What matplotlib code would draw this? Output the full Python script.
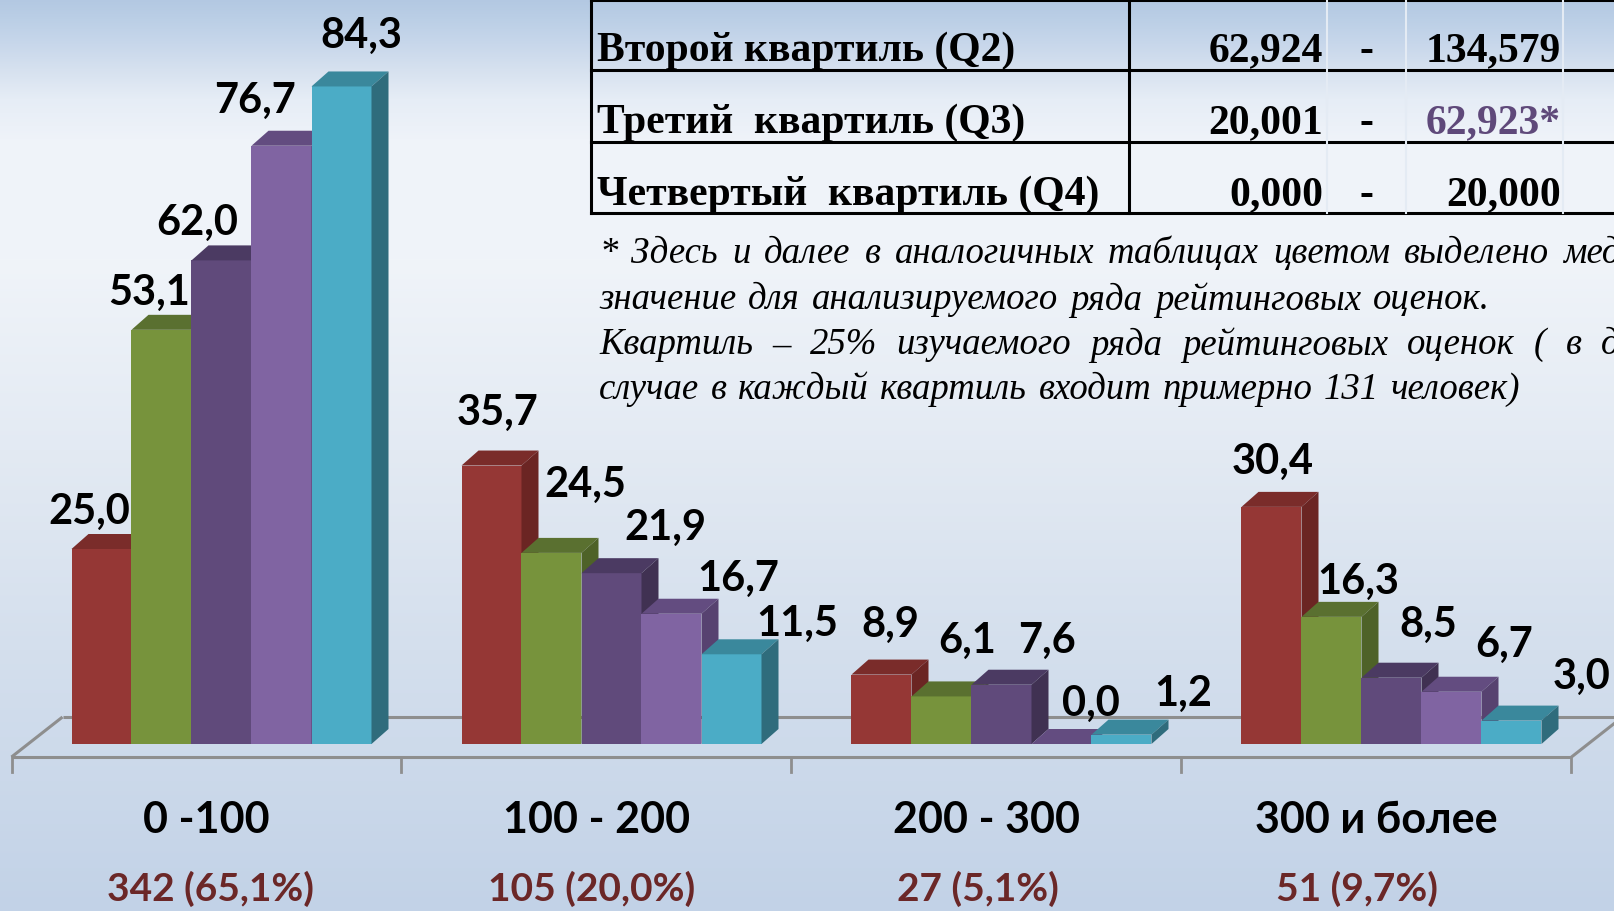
import numpy as np
import matplotlib.pyplot as plt
from matplotlib.patches import Polygon
from matplotlib.lines import Line2D
from matplotlib.transforms import IdentityTransform
from matplotlib.colors import to_rgb

# ---- data ----
categories = ['0 -100', '100 - 200', '200 - 300', '300 и более']
counts = ['342 (65,1%)', '105 (20,0%)', '27 (5,1%)', '51 (9,7%)']

s_red = [25.0, 35.7, 8.9, 30.4]
s_green = [53.1, 24.5, 6.1, 16.3]
s_dpurple = [62.0, 21.9, 7.6, 8.5]
s_lilac = [76.7, 16.7, 0.0, 6.7]
s_cyan = [84.3, 11.5, 1.2, 3.0]
series = [s_red, s_green, s_dpurple, s_lilac, s_cyan]

q_names = ['Второй квартиль (Q2)', 'Третий  квартиль (Q3)', 'Четвертый  квартиль (Q4)']
q_low = ['62,924', '20,001', '0,000']
q_high = ['134,579', '62,923*', '20,000']

note_lines = [
    '* Здесь и далее в аналогичных таблицах цветом выделено медианное',
    'значение для анализируемого ряда рейтинговых оценок.',
    'Квартиль – 25% изучаемого ряда рейтинговых оценок ( в данном',
    'случае в каждый квартиль входит примерно 131 человек)',
]

# ---- styles ----
# (front, top, side) per series
face_colors = [
    ('#953735', '#7A2C2A', '#6B2523'),
    ('#77933C', '#5A7030', '#4E6228'),
    ('#604A7B', '#4B3A62', '#403152'),
    ('#8064A2', '#634C80', '#574270'),
    ('#4BACC6', '#3A889C', '#2F6C7C'),
]
# label offsets (px) from front-top centre of each bar, [group][series]
label_off = [
    [(-12, 38), (-12, 38), (-24, 38), (-26, 46), (20, 52)],
    [(6, 54), (34, 69), (54, 46), (67, 36), (66, 31)],
    [(9, 51), (26, 56), (45, 45), (29, 41), (62, 42)],
    [(1, 46), (27, 36), (37, 54), (53, 48), (70, 45)],
]
count_dx = [4, -5, -9, -19]

W, H = 1614, 912
fig = plt.figure(figsize=(W / 100, H / 100), dpi=100)

# background gradient
stops_y = [0, 20, 45, 70, 100, 140, 260, 450, 650, 912]
stops_c = ['#B3C8E2', '#BBCFE6', '#C8D7EB', '#D6E1EF', '#E6EDF6', '#EFF3F9',
           '#F0F4F9', '#E3EAF3', '#D4DFED', '#C2D2E7']
rgb = np.array([to_rgb(c) for c in stops_c])
yy = np.arange(H)
grad = np.stack([np.interp(yy, stops_y, rgb[:, k]) for k in range(3)], axis=1)
bg = fig.add_axes([0, 0, 1, 1], zorder=0)
bg.imshow(np.repeat(grad[:, None, :], 4, axis=1), aspect='auto', extent=[0, 1, 0, 1])
bg.axis('off')

ax = fig.add_axes([0, 0, 1, 1], zorder=1)
ax.patch.set_alpha(0)
ax.axis('off')

px_per_cat = 390.0
cat0_px = 206.5
px_per_unit = 7.8
base_px = 745  # from top
ax.set_xlim(-cat0_px / px_per_cat, (W - cat0_px) / px_per_cat)
ax.set_ylim((base_px - H) / px_per_unit, base_px / px_per_unit)

bar_w = 60 / px_per_cat
shift = 15 / px_per_cat
ddx, ddy = 17, 15     # bar depth in px
fdx, fdy = 51, 40     # floor depth in px
ident = IdentityTransform()


def disp(x, y):
    return ax.transData.transform((x, y))


# floor
n = len(categories)
fl = disp(-0.5, 0) + np.array([0, -13])
fr = disp(n - 0.5, 0) + np.array([0, -13])
floor_kw = dict(color='#8E8E8E', lw=2.2, transform=ident, solid_capstyle='butt')
fig_lines = [
    ([fl[0], fr[0]], [fl[1], fr[1]]),
    ([fl[0], fl[0] + fdx], [fl[1], fl[1] + fdy]),
    ([fr[0], fr[0] + fdx], [fr[1], fr[1] + fdy]),
    ([fl[0] + fdx, fr[0] + fdx], [fl[1] + fdy, fr[1] + fdy]),
]
for xs, ys in fig_lines:
    ax.add_line(Line2D(xs, ys, **floor_kw))
for k in range(n + 1):
    p = disp(k - 0.5, 0) + np.array([0, -13])
    ax.add_line(Line2D([p[0], p[0]], [p[1], p[1] - 15], color='#8E8E8E', lw=2, transform=ident))

# bars
for g in range(n):
    for i, s in enumerate(series):
        v = s[g]
        xl = g + shift + (i - 2.5) * bar_w
        front, top, side = face_colors[i]
        ax.bar(xl, v, width=bar_w, align='edge', color=front, linewidth=0, zorder=2)
        p0 = disp(xl, 0)
        p1 = disp(xl + bar_w, v)
        top_pts = [(p0[0], p1[1]), (p1[0], p1[1]), (p1[0] + ddx, p1[1] + ddy), (p0[0] + ddx, p1[1] + ddy)]
        side_pts = [(p1[0], p0[1]), (p1[0], p1[1]), (p1[0] + ddx, p1[1] + ddy), (p1[0] + ddx, p0[1] + ddy)]
        ax.add_patch(Polygon(top_pts, closed=True, fc=top, ec='none', transform=ident, zorder=2))
        ax.add_patch(Polygon(side_pts, closed=True, fc=side, ec='none', transform=ident, zorder=2))
        ox, oy = label_off[g][i]
        ax.annotate(f'{v:.1f}'.replace('.', ','), (xl + bar_w / 2, v), xytext=(ox, oy),
                    textcoords='offset pixels', ha='center', va='center',
                    fontsize=30, fontweight='bold', family=['Lato', 'DejaVu Sans'], zorder=5)

for g, (cat, cnt) in enumerate(zip(categories, counts)):
    ax.annotate(cat, (g, 0), xytext=(0, -75), textcoords='offset pixels', ha='center', va='center',
                fontsize=31, fontweight='bold', family=['Lato', 'DejaVu Sans'])
    ax.annotate(cnt, (g, 0), xytext=(count_dx[g], -144), textcoords='offset pixels', ha='center',
                va='center', fontsize=28, fontweight='bold', color='#6B2727',
                family=['Lato', 'DejaVu Sans'])


# ---- table (figure pixel coords, y from top) ----
def fx(x):
    return x / W


def fy(y):
    return 1 - y / H


tbl_kw = dict(color='black', lw=2.2)
for y in [1, 71, 143, 214]:
    fig.add_artist(Line2D([fx(591), 1], [fy(y), fy(y)], **tbl_kw))
for x in [591, 1129]:
    fig.add_artist(Line2D([fx(x), fx(x)], [fy(0), fy(214)], **tbl_kw))
for x in [1327, 1406, 1563]:
    fig.add_artist(Line2D([fx(x), fx(x)], [fy(0), fy(214)], color='#E4EBF4', lw=1.5))

row_y = [51, 123, 195]
tfont = dict(fontsize=30, fontweight='bold', family='Liberation Serif', va='center')
for r in range(3):
    fig.text(fx(597), fy(row_y[r]), q_names[r], ha='left', **tfont)
    fig.text(fx(1323), fy(row_y[r]), q_low[r], ha='right', **tfont)
    fig.text(fx(1366), fy(row_y[r]), '-', ha='center', **tfont)
    col = '#5F497A' if q_high[r].endswith('*') else 'black'
    fig.text(fx(1561), fy(row_y[r]), q_high[r], ha='right', color=col, **tfont)

# ---- notes, word by word so lines can be justified ----
# target: ('start', x) = left edge of the last word, ('end', x) = right edge of the line
renderer = fig.canvas.get_renderer()
note_y = [254, 300, 345, 390]
note_target = [('start', 1563), ('end', 1490), ('start', 1601), ('end', 1520)]
nfont = dict(fontsize=26.5, style='italic', family='Liberation Serif', va='center', ha='left')
for line, y, (kind, xe) in zip(note_lines, note_y, note_target):
    words = line.split(' ')
    texts = [fig.text(0, fy(y), w, **nfont) for w in words]
    widths = [t.get_window_extent(renderer).width for t in texts]
    used = sum(widths[:-1]) if kind == 'start' else sum(widths)
    gap = max((xe - 599 - used) / (len(words) - 1), 3)
    x = 599
    for t, w in zip(texts, widths):
        t.set_x(fx(x))
        x += w + gap

fig.savefig('out.png', dpi=100)
